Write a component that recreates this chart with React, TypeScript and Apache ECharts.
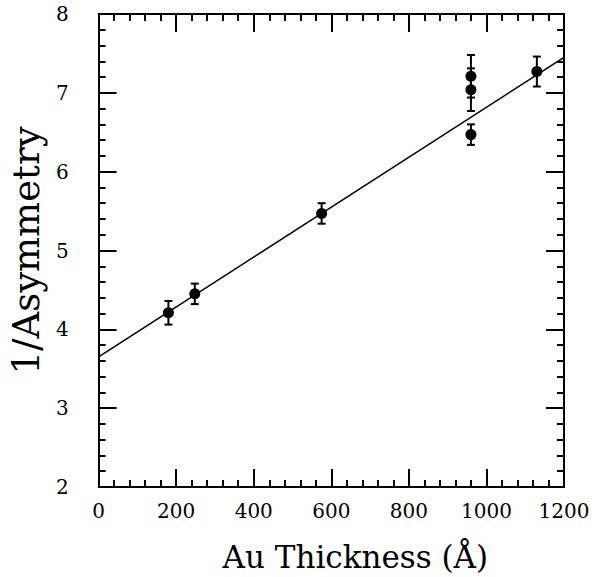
import React, { useEffect, useRef } from "react";
import * as echarts from "echarts";

const thickness = [180, 248, 575, 960, 960, 960, 1130];
const invAsym = [4.21, 4.45, 5.47, 7.21, 7.04, 6.47, 7.27];
const errors = [0.15, 0.13, 0.13, 0.27, 0.27, 0.13, 0.19];
const fitX = [0, 1200];
const fitY = [3.65, 7.45];
const xTicks = [0, 200, 400, 600, 800, 1000, 1200];
const yTicks = [2, 3, 4, 5, 6, 7, 8];

export default function App() {
  const ref = useRef<HTMLDivElement>(null);
  useEffect(() => {
    const chart = echarts.init(ref.current!, null, { renderer: "svg" });
    const font = "DejaVu Serif";
    const axisCommon = {
      type: "value" as const,
      axisLine: { show: true, onZero: false, lineStyle: { color: "#000", width: 2 } },
      axisTick: { show: true, inside: true, length: 18, lineStyle: { color: "#000", width: 2 } },
      minorTick: { show: true, splitNumber: 5, length: 7, lineStyle: { color: "#000", width: 2 } },
      splitLine: { show: false },
    };
    const errData = thickness.map((x, i) => [x, invAsym[i] - errors[i], invAsym[i] + errors[i]]);
    chart.setOption({
      animation: false,
      backgroundColor: "#fff",
      grid: { left: 93, right: 32, top: 14, bottom: 88 },
      xAxis: [
        {
          ...axisCommon,
          min: xTicks[0],
          max: xTicks[xTicks.length - 1],
          interval: 200,
          position: "bottom",
          name: "Au Thickness (Å)",
          nameLocation: "middle",
          nameGap: 54,
          nameTextStyle: { fontFamily: font, fontSize: 31, color: "#000", padding: [0, 0, 0, 48] },
          axisLabel: {
            show: true,
            margin: 14,
            fontFamily: font,
            fontSize: 20,
            color: "#000",
            formatter: (v: number) => String(v),
          },
        },
        {
          ...axisCommon,
          min: xTicks[0],
          max: xTicks[xTicks.length - 1],
          interval: 200,
          position: "top",
          axisLabel: { show: false },
        },
      ],
      yAxis: [
        {
          ...axisCommon,
          min: yTicks[0],
          max: yTicks[yTicks.length - 1],
          interval: 1,
          position: "left",
          name: "1/Asymmetry",
          nameLocation: "middle",
          nameGap: 50,
          nameTextStyle: { fontFamily: font, fontSize: 37, color: "#000" },
          axisLabel: {
            show: true,
            margin: 30,
            fontFamily: font,
            fontSize: 20,
            color: "#000",
            formatter: (v: number) => String(v),
          },
        },
        {
          ...axisCommon,
          min: yTicks[0],
          max: yTicks[yTicks.length - 1],
          interval: 1,
          position: "right",
          axisLabel: { show: false },
        },
      ],
      series: [
        {
          type: "line",
          data: fitX.map((x, i) => [x, fitY[i]]),
          showSymbol: false,
          lineStyle: { color: "#000", width: 1.6 },
          silent: true,
        },
        {
          type: "custom",
          data: errData,
          renderItem: (params: any, api: any) => {
            const x = api.value(0);
            const lo = api.coord([x, api.value(1)]);
            const hi = api.coord([x, api.value(2)]);
            const w = 4;
            const st = { stroke: "#000", lineWidth: 2 };
            return {
              type: "group",
              children: [
                { type: "line", shape: { x1: lo[0], y1: lo[1], x2: hi[0], y2: hi[1] }, style: st },
                { type: "line", shape: { x1: lo[0] - w, y1: lo[1], x2: lo[0] + w, y2: lo[1] }, style: st },
                { type: "line", shape: { x1: hi[0] - w, y1: hi[1], x2: hi[0] + w, y2: hi[1] }, style: st },
              ],
            };
          },
        },
        {
          type: "scatter",
          data: thickness.map((x, i) => [x, invAsym[i]]),
          symbol: "circle",
          symbolSize: 11,
          itemStyle: { color: "#000", opacity: 1 },
        },
      ],
    });
    return () => chart.dispose();
  }, []);
  return (
    <div
      ref={ref}
      style={{ position: "fixed", left: 0, top: 0, width: 596, height: 577, background: "#fff" }}
    />
  );
}
